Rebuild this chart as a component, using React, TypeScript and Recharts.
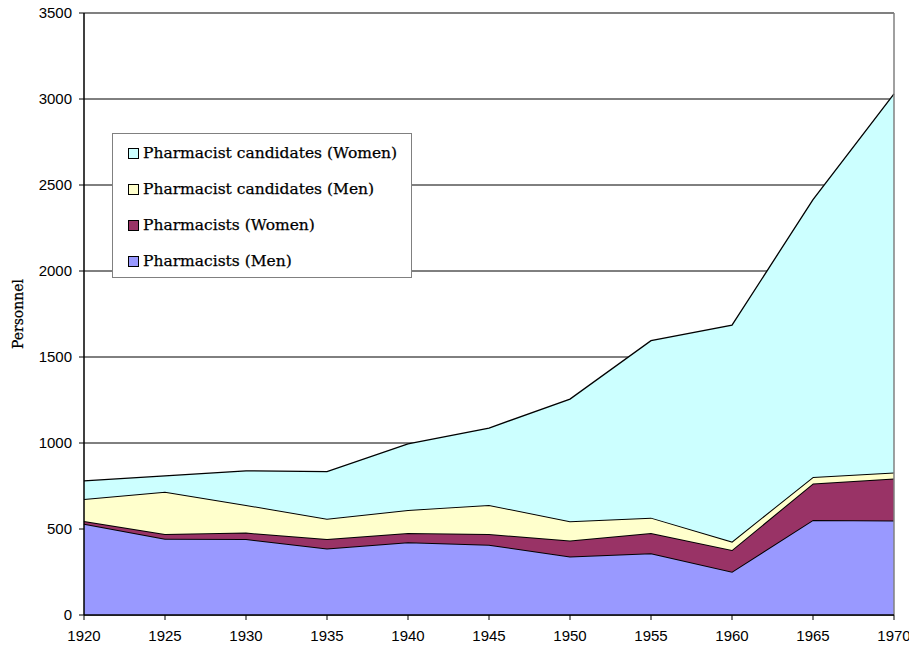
import React from 'react';
import { AreaChart, Area, XAxis, YAxis, CartesianGrid, ReferenceLine } from 'recharts';

const years = [1920, 1925, 1930, 1935, 1940, 1945, 1950, 1955, 1960, 1965, 1970];
const pharmacistsMen = [530, 444, 442, 386, 423, 409, 340, 359, 252, 553, 549];
const pharmacistsWomen = [17, 27, 37, 56, 54, 62, 93, 118, 126, 212, 245];
const candidatesMen = [128, 245, 161, 117, 134, 169, 112, 89, 49, 38, 35];
const candidatesWomen = [105, 93, 198, 275, 384, 447, 710, 1029, 1258, 1612, 2201];
const yTicks = [0, 500, 1000, 1500, 2000, 2500, 3000, 3500];
const xTicks = [1920, 1925, 1930, 1935, 1940, 1945, 1950, 1955, 1960, 1965, 1970];

const series = [
  { key: 'pm', name: 'Pharmacists (Men)', color: '#9999FF', values: pharmacistsMen, sw: 2 },
  { key: 'pw', name: 'Pharmacists (Women)', color: '#993366', values: pharmacistsWomen, sw: 2 },
  { key: 'cm', name: 'Pharmacist candidates (Men)', color: '#FFFFCC', values: candidatesMen, sw: 2 },
  { key: 'cw', name: 'Pharmacist candidates (Women)', color: '#CCFFFF', values: candidatesWomen, sw: 1.3 },
];

const data = years.map((y, i) => {
  const row: any = { year: y };
  series.forEach((s) => { row[s.key] = s.values[i]; });
  return row;
});

const axisFont = '"Liberation Sans", Arial, sans-serif';
const serifFont = '"DejaVu Serif", "Liberation Serif", serif';

const LegendBox = () => (
  <div
    style={{
      position: 'absolute',
      left: 112,
      top: 133,
      width: 300,
      height: 145,
      border: '1px solid #808080',
      background: '#fff',
      boxSizing: 'border-box',
      fontFamily: serifFont,
      fontSize: 15.5,
      color: '#000',
      paddingTop: 1,
    }}
  >
    {[...series].reverse().map((s) => (
      <div key={s.key} style={{ display: 'flex', alignItems: 'center', height: 36, paddingLeft: 15 }}>
        <span
          style={{
            display: 'inline-block',
            width: 9,
            height: 9,
            background: s.color,
            border: '1px solid #000',
            marginRight: 4,
            flexShrink: 0,
          }}
        />
        <span style={{ whiteSpace: 'nowrap', WebkitTextStroke: '0.25px #000' }}>{s.name}</span>
      </div>
    ))}
  </div>
);

export default function App() {
  return (
    <div style={{ position: 'absolute', left: 0, top: 0, width: 909, height: 645 }}>
      <AreaChart width={909} height={645} data={data} margin={{ top: 13, right: 15, bottom: 0, left: 24 }}>
        <CartesianGrid vertical={false} stroke="#000" strokeWidth={1} />
        <XAxis
          dataKey="year"
          type="number"
          domain={[1920, 1970]}
          ticks={xTicks}
          interval={0}
          height={30}
          stroke="#000"
          tickSize={5}
          tickMargin={10}
          tick={{ fill: '#000', fontSize: 15, fontFamily: axisFont }}
          tickLine={{ stroke: '#000' }}
          axisLine={{ stroke: '#000', strokeWidth: 1.5 }}
        />
        <YAxis
          type="number"
          domain={[0, 3500]}
          ticks={yTicks}
          interval={0}
          width={60}
          stroke="#000"
          tickSize={5}
          tickMargin={7}
          tick={{ fill: '#000', fontSize: 15, fontFamily: axisFont }}
          axisLine={{ stroke: '#000', strokeWidth: 1.5 }}
          label={{
            content: () => (
              <text
                x={23}
                y={314}
                transform="rotate(-90 23 314)"
                textAnchor="middle"
                fontFamily={serifFont}
                fontSize={14}
                stroke="#000"
                strokeWidth={0.25}
                fill="#000"
              >
                Personnel
              </text>
            ),
          }}
        />
        {series.map((s) => (
          <Area
            key={s.key}
            type="linear"
            dataKey={s.key}
            name={s.name}
            stackId="1"
            stroke="#000"
            strokeWidth={s.sw}
            fill={s.color}
            fillOpacity={1}
            isAnimationActive={false}
            dot={false}
            activeDot={false}
          />
        ))}
        <ReferenceLine y={3500} stroke="#808080" strokeWidth={1.5} />
        <ReferenceLine x={1970} stroke="#808080" strokeWidth={1.5} />
      </AreaChart>
      <LegendBox />
    </div>
  );
}
